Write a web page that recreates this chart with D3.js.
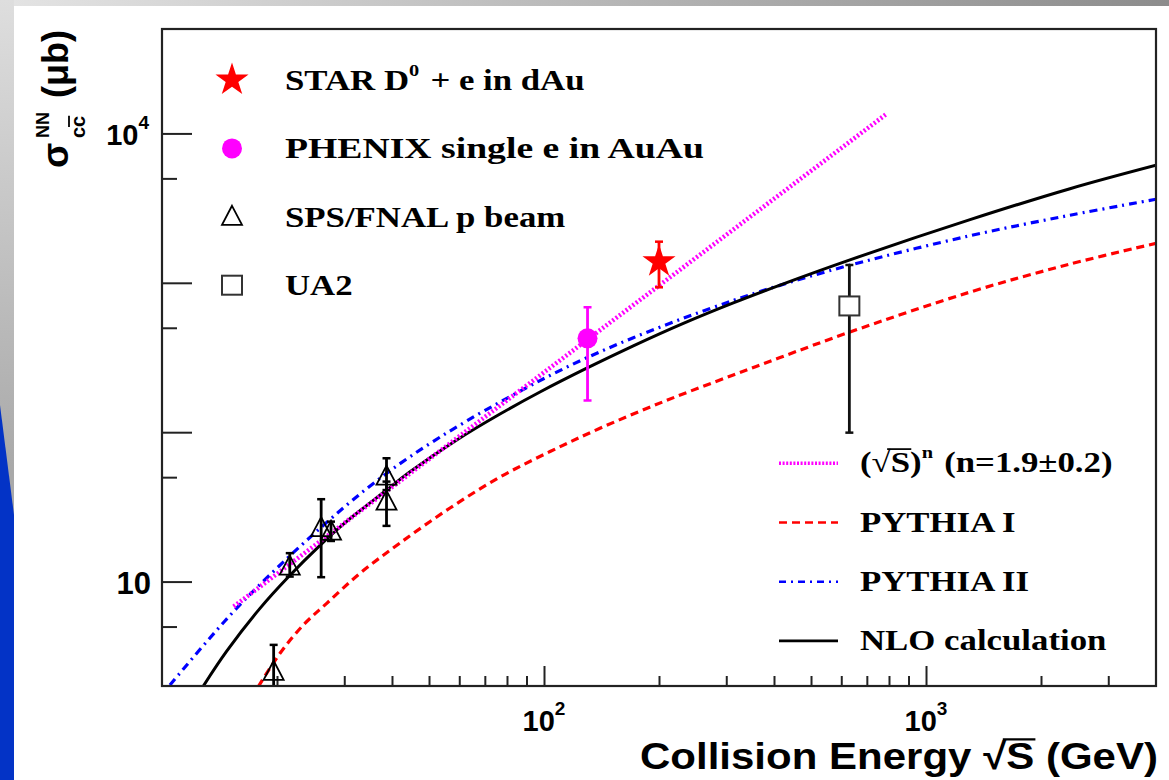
<!DOCTYPE html>
<html>
<head>
<meta charset="utf-8">
<script src="https://cdn.jsdelivr.net/npm/d3@7"></script>
<style>
  html, body { margin: 0; padding: 0; background: #fff; }
  svg { display: block; }
  svg text { white-space: pre; }
</style>
</head>
<body>
<svg id="chart" width="1169" height="780"></svg>
<script>
// ---- Measurements: open-charm cross section per NN collision (μb) vs sqrt(s) (GeV) ----
const starPoints   = [{ x: 200, y: 1385, lo: 933, hi: 1885 }];
const phenixPoints = [{ x: 130, y: 425,  lo: 163, hi: 686 }];
const spsPoints = [
  { x: 19.6, y: 2.49, lo: 1.6,  hi: 3.77 },
  { x: 21.6, y: 12.6, lo: 10.8, hi: 15.5 },
  { x: 26.1, y: 22.8, lo: 10.7, hi: 35.6 },
  { x: 27.7, y: 21.6, lo: 18.7, hi: 25.2 },
  { x: 38.7, y: 50.4, lo: 41.0, hi: 66.9 },
  { x: 38.7, y: 34.3, lo: 23.6, hi: 46.7 }
];
const ua2Points = [{ x: 630, y: 700, lo: 99.3, hi: 1316 }];

// ---- Curves: [sqrt(s), sigma] ----
const powerLawFit = [[15.4, 6.8], [786, 13430]];
const nloCurve = [
  [12.83, 2.0], [14.77, 3.42], [18.05, 6.62], [21.41, 10.73], [25.92, 17.49],
  [30.44, 25.3], [38.74, 41.0], [44.6, 54.3], [59.1, 88.7], [76.7, 132.3],
  [97.6, 185.8], [129.4, 268.2], [171.3, 378.6], [231.6, 535.4], [313, 734.4],
  [414.8, 965.6], [632.4, 1424], [1304, 2646], [2382, 4266], [4000, 6122]
];
const pythia1Curve = [
  [17.87, 1.98], [20.37, 3.31], [23.44, 5.12], [26.99, 7.15], [32.98, 11.36],
  [41.98, 18.13], [56.75, 31.08], [76.7, 50.1], [103.7, 74.2], [140.1, 106.2],
  [209.5, 163.4], [313, 241.4], [414.8, 316], [632.4, 468.4], [1304, 867],
  [2382, 1335], [4000, 1838]
];
const pythia2Curve = [
  [10.49, 2.03], [13.09, 3.96], [15.69, 6.64], [19.17, 11.10], [25.92, 22.73],
  [34.35, 41.9], [44.6, 68.6], [62.8, 119.0], [97.6, 221.4], [129.4, 315],
  [171.3, 429], [231.6, 579], [313, 761.6], [390.6, 918], [632.4, 1313],
  [1304, 2066], [2382, 2834], [4000, 3626]
];

// ---- Axis ticks ----
const xMajorTicks = [100, 1000];
const xMinorTicks = [20, 30, 40, 50, 60, 70, 80, 90, 200, 300, 400, 500, 600, 700, 800, 900, 2000, 3000];
const yMajorTicks = [10, 100, 1000, 10000];
const yMinorTicks = [5, 50, 500, 5000];
const xTickLabels = [{ v: 100, base: "10", exp: "2" }, { v: 1000, base: "10", exp: "3" }];
const yTickLabels = [{ v: 10, base: "10", exp: "" }, { v: 10000, base: "10", exp: "4" }];

// ---- Legend labels ----
const markerLegend = [
  { key: "star",     segs: [["STAR D"], ["0", "sup"], [" + e in dAu"]] },
  { key: "circle",   segs: [["PHENIX single e in AuAu"]], stretch: 1.3 },
  { key: "triangle", segs: [["SPS/FNAL p beam"]] },
  { key: "square",   segs: [["UA2"]] }
];
const lineLegend = [
  { key: "power",   segs: [["("], ["\u221A"], ["S", "over"], [")"], ["n", "sup"], [" (n=1.9\u00B10.2)"]] },
  { key: "pythia1", segs: [["PYTHIA I"]] },
  { key: "pythia2", segs: [["PYTHIA II"]] },
  { key: "nlo",     segs: [["NLO calculation"]] }
];

const svg = d3.select("#chart");
const W = 1169, H = 780;
const frame = { left: 162, top: 29, right: 1156, bottom: 686 };

// ---- slide background ----
const defs = svg.append("defs");
const gTop = defs.append("linearGradient").attr("id", "topStrip").attr("x1", 0).attr("x2", 1).attr("y1", 0).attr("y2", 0);
gTop.append("stop").attr("offset", 0).attr("stop-color", "#e4e4e4");
gTop.append("stop").attr("offset", 1).attr("stop-color", "#8c8c8c");
const gLeft = defs.append("linearGradient").attr("id", "leftStrip").attr("x1", 0).attr("x2", 0).attr("y1", 0).attr("y2", 1);
gLeft.append("stop").attr("offset", 0).attr("stop-color", "#dedede");
gLeft.append("stop").attr("offset", 0.6).attr("stop-color", "#a9a9a9");
defs.append("clipPath").attr("id", "plotClip").append("rect")
  .attr("x", frame.left).attr("y", frame.top)
  .attr("width", frame.right - frame.left).attr("height", frame.bottom - frame.top);

svg.append("rect").attr("width", W).attr("height", H).attr("fill", "#ffffff");
svg.append("rect").attr("x", 0).attr("y", 0).attr("width", W).attr("height", 6).attr("fill", "url(#topStrip)");
svg.append("rect").attr("x", 0).attr("y", 0).attr("width", 14).attr("height", H).attr("fill", "url(#leftStrip)");
svg.append("path").attr("d", "M0,405 L14,515 L14,780 L0,780 Z").attr("fill", "#0333c6");

// ---- scales ----
const x = d3.scaleLog().domain([10, 4000]).range([frame.left, frame.right]);
const y = d3.scaleLog().domain([2, 50000]).range([frame.bottom, frame.top]);

// ---- text helper: lays out rich segments (superscripts, overlines) left to right ----
function richText(parent, x0, y0, segs, opt) {
  const g = parent.append("g");
  const size = opt.size, supSize = opt.supSize || size * 0.62;
  let cx = 0;
  const overlines = [];
  segs.forEach(([t, kind]) => {
    const fs = kind === "sup" ? supSize : size;
    const dy = kind === "sup" ? -size * (opt.supRaise || 0.42) : 0;
    const el = g.append("text")
      .attr("x", cx).attr("y", dy)
      .attr("font-family", opt.family).attr("font-weight", "bold")
      .attr("font-size", fs).attr("fill", opt.fill || "#000")
      .text(t);
    const w = el.node().getComputedTextLength();
    if (kind === "over") overlines.push([cx - 1, cx + w + 1]);
    cx += w + (kind === "sup" ? 2 : 0);
  });
  overlines.forEach(([a, b]) => {
    g.append("line").attr("x1", a - 2).attr("x2", b).attr("y1", -size * 0.80).attr("y2", -size * 0.80)
      .attr("stroke", opt.fill || "#000").attr("stroke-width", Math.max(1.5, size * 0.06));
  });
  const sx = opt.targetWidth ? opt.targetWidth / cx : (opt.stretch || 1);
  let shift = 0;
  if (opt.anchor === "end") shift = -cx * sx;
  if (opt.anchor === "middle") shift = -cx * sx / 2;
  g.attr("transform", `translate(${x0 + shift},${y0}) scale(${sx},1)`);
  return g;
}

// ---- ticks (pointing into the frame) ----
function styleAxis(g) {
  g.select(".domain").remove();
  g.selectAll(".tick line").attr("stroke", "#222").attr("stroke-width", 2);
}
svg.append("g").attr("transform", `translate(0,${frame.bottom})`)
  .call(d3.axisBottom(x).tickValues(xMinorTicks).tickSize(-10).tickFormat(() => "")).call(styleAxis);
svg.append("g").attr("transform", `translate(0,${frame.bottom})`)
  .call(d3.axisBottom(x).tickValues(xMajorTicks).tickSize(-20).tickFormat(() => "")).call(styleAxis);
svg.append("g").attr("transform", `translate(${frame.left},0)`)
  .call(d3.axisLeft(y).tickValues(yMinorTicks).tickSize(-15).tickFormat(() => "")).call(styleAxis);
svg.append("g").attr("transform", `translate(${frame.left},0)`)
  .call(d3.axisLeft(y).tickValues(yMajorTicks).tickSize(-30).tickFormat(() => "")).call(styleAxis);

// ---- tick labels ----
const sansFam = "'Liberation Sans', Arial, Helvetica, sans-serif";
const serifFam = "'Liberation Serif', 'Times New Roman', Times, serif";
xTickLabels.forEach(d => {
  richText(svg, x(d.v) + 1, 731, [[d.base], [d.exp, "sup"]],
    { size: 29, supSize: 19, supRaise: 0.55, family: sansFam, anchor: "middle" });
});
yTickLabels.forEach(d => {
  const segs = d.exp ? [[d.base], [d.exp, "sup"]] : [[d.base]];
  richText(svg, 151, y(d.v) + 12, segs,
    { size: d.exp ? 29 : 31, supSize: 19, supRaise: 0.55, family: sansFam, anchor: "end" });
});

// ---- axis titles ----
richText(svg, 1158, 769, [["Collision Energy "], ["\u221A"], ["S", "over"], [" (GeV)"]],
  { size: 37, family: sansFam, anchor: "end", targetWidth: 518 });

const yt = svg.append("g").attr("transform", "translate(68,168) rotate(-90)");
yt.append("text").attr("x", 0).attr("y", 0).attr("font-family", sansFam).attr("font-weight", "bold")
  .attr("font-size", 37).text("\u03C3");
yt.append("text").attr("x", 30).attr("y", -19).attr("font-family", sansFam).attr("font-weight", "bold")
  .attr("font-size", 18).text("NN");
const cc = yt.append("text").attr("x", 30).attr("y", 17).attr("font-family", sansFam).attr("font-weight", "bold")
  .attr("font-size", 20).text("cc");
{
  const n = cc.node();
  const a = n.getStartPositionOfChar(1).x, b = n.getEndPositionOfChar(1).x;
  yt.append("line").attr("x1", a).attr("x2", b).attr("y1", 1).attr("y2", 1)
    .attr("stroke", "#000").attr("stroke-width", 1.8);
}
yt.append("text").attr("x", 70).attr("y", 0).attr("font-family", sansFam).attr("font-weight", "bold")
  .attr("font-size", 36).text("(\u03BCb)");

// ---- curves ----
const plot = svg.append("g").attr("clip-path", "url(#plotClip)");
const line = d3.line().x(d => x(d[0])).y(d => y(d[1])).curve(d3.curveCatmullRom.alpha(0.5));
const curveStyles = {
  power:   { color: "#ff00ff", width: 4.5, dash: "2,2.2" },
  pythia1: { color: "#ff0000", width: 3.2, dash: "8,5" },
  pythia2: { color: "#0000ff", width: 3.2, dash: "8,5,2,5" },
  nlo:     { color: "#000000", width: 3,   dash: null }
};
function drawCurve(data, key) {
  const s = curveStyles[key];
  plot.append("path").datum(data).attr("d", line)
    .attr("fill", "none").attr("stroke", s.color).attr("stroke-width", s.width)
    .attr("stroke-dasharray", s.dash);
}
drawCurve(pythia1Curve, "pythia1");
drawCurve(pythia2Curve, "pythia2");
drawCurve(nloCurve, "nlo");
drawCurve(powerLawFit, "power");

// ---- markers ----
const markers = {
  star: (g, c) => g.append("path").attr("d", d3.symbol().type(d3.symbolStar).size(340)())
    .attr("transform", `translate(${c[0]},${c[1]})`).attr("fill", "#ff0000"),
  circle: (g, c) => g.append("circle").attr("cx", c[0]).attr("cy", c[1]).attr("r", 10).attr("fill", "#ff00ff"),
  triangle: (g, c) => g.append("path")
    .attr("d", `M${c[0]},${c[1] - 11} L${c[0] + 10},${c[1] + 8} L${c[0] - 10},${c[1] + 8} Z`)
    .attr("fill", "none").attr("stroke", "#000").attr("stroke-width", 1.8).attr("stroke-linejoin", "miter"),
  square: (g, c) => g.append("rect").attr("x", c[0] - 10).attr("y", c[1] - 9.5).attr("width", 20).attr("height", 19)
    .attr("fill", "#fff").attr("stroke", "#333").attr("stroke-width", 2)
};
function drawPoints(data, key, color, barWidth) {
  const g = plot.append("g");
  data.forEach(d => {
    const px = x(d.x), y1 = y(d.hi), y2 = y(d.lo);
    g.append("line").attr("x1", px).attr("x2", px).attr("y1", y1).attr("y2", y2)
      .attr("stroke", color).attr("stroke-width", barWidth);
    [y1, y2].forEach(yy => g.append("line").attr("x1", px - 4).attr("x2", px + 4).attr("y1", yy).attr("y2", yy)
      .attr("stroke", color).attr("stroke-width", 2.5));
  });
  data.forEach(d => markers[key](g, [x(d.x), y(d.y)]));
}
drawPoints(spsPoints, "triangle", "#000", 2.8);
drawPoints(ua2Points, "square", "#111", 2.8);
drawPoints(phenixPoints, "circle", "#ff00ff", 2.8);
drawPoints(starPoints, "star", "#ff0000", 2.8);

// ---- frame ----
svg.append("rect").attr("x", frame.left).attr("y", frame.top)
  .attr("width", frame.right - frame.left).attr("height", frame.bottom - frame.top)
  .attr("fill", "none").attr("stroke", "#222").attr("stroke-width", 2.2);

// ---- legends ----
const legA = svg.append("g");
markerLegend.forEach((d, i) => {
  const cy = 80 + i * 68.4;
  markers[d.key](legA, [232, cy]);
  richText(legA, 285, cy + 10, d.segs,
    { size: 29, supSize: 17, supRaise: 0.5, family: serifFam, stretch: d.stretch || 1.2 });
});
const legB = svg.append("g");
lineLegend.forEach((d, i) => {
  const cy = 463.3 + i * 59.2;
  const s = curveStyles[d.key];
  legB.append("line").attr("x1", 779).attr("x2", 838).attr("y1", cy).attr("y2", cy)
    .attr("stroke", s.color).attr("stroke-width", d.key === "power" ? 3.5 : 2.6)
    .attr("stroke-dasharray", d.key === "power" ? "2,1.6" : d.key === "pythia2" ? "7,5,2,5" : s.dash);
  richText(legB, 860, cy + 9, d.segs, { size: 29, supSize: 17, supRaise: 0.5, family: serifFam, stretch: 1.2 });
});
</script>
</body>
</html>
